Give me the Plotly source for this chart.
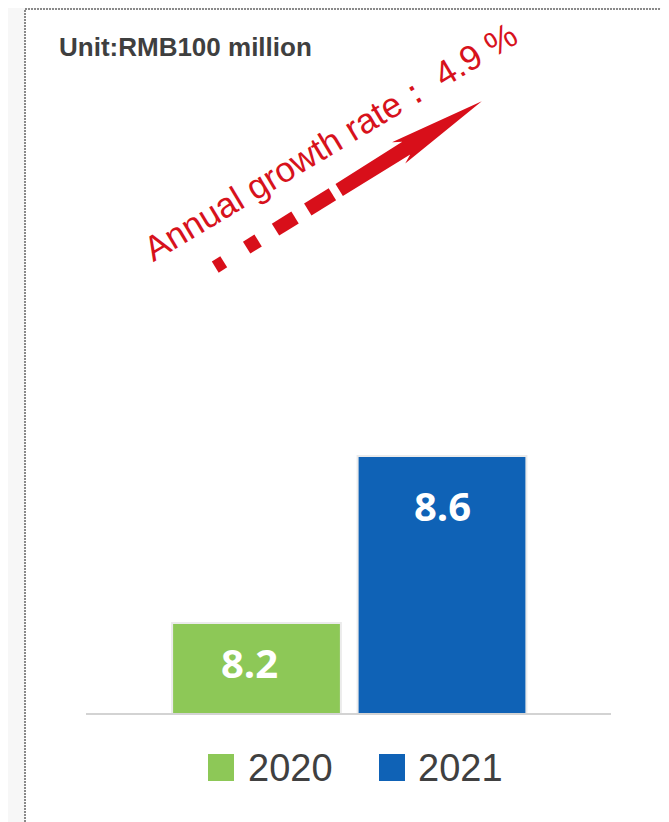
import math
import plotly.graph_objects as go

# ---- data ----
years = ["2020", "2021"]
values = [8.2, 8.6]
value_labels = ["8.2", "8.6"]
unit_text = "Unit:RMB100 million"
growth_text = "Annual growth rate： 4.9 %"

# ---- styles ----
bar_colors = ["#8dc857", "#0f62b6"]
OFF = 8  # page body margin
W, H = 669 - OFF, 822 - OFF
ML, MR, MT, MB = 86 - OFF, 669 - 611, 100 - OFF, 822 - 713
PW, PH = W - ML - MR, H - MT - MB

def px(x, y):
    return (x - OFF - ML) / PW, (H - MB - (y - OFF)) / PH

fig = go.Figure()
for yr, v, c in zip(years, values, bar_colors):
    fig.add_trace(go.Bar(
        x=[yr], y=[v], name=yr, width=0.91,
        marker=dict(color=c, line=dict(color="#ebebeb", width=2)),
        showlegend=False, hoverinfo="skip",
    ))

shapes = []
x0, y0 = px(25, 9)
x1, y1 = px(700, 860)
shapes.append(dict(type="rect", xref="paper", yref="paper", x0=x0, y0=y1, x1=x1, y1=y0,
                   fillcolor="white", line=dict(color="#8a8a8a", width=2, dash="2px,1px"),
                   layer="below"))

# red dashed arrow
P0 = (219.5, 264.5)
ang = math.atan2(163.5, 262.5)
u = (math.cos(ang), -math.sin(ang))
v = (math.sin(ang), math.cos(ang))

def loc(t, s):
    return (P0[0] + t * u[0] + s * v[0], P0[1] + t * u[1] + s * v[1])

def poly(points):
    pts = [px(*loc(t, s)) for t, s in points]
    d = "M " + " L ".join(f"{a:.5f},{b:.5f}" for a, b in pts) + " Z"
    return dict(type="path", xref="paper", yref="paper", path=d,
                fillcolor="#d80f1a", line=dict(width=0), layer="above")

for t0, t1, hw in [(-5, 5, 6.5), (32, 45.5, 7), (66, 89, 7), (104, 133, 7)]:
    shapes.append(poly([(t0, -hw), (t1, -hw), (t1, hw), (t0, hw)]))
shapes.append(poly([(141, -7), (220, -7.5), (211, -12.5), (309, 0),
                    (211, 12.5), (220, 7.5), (141, 7)]))

for (lx, c) in [(208, bar_colors[0]), (379, bar_colors[1])]:
    a0, b0 = px(lx, 754)
    a1, b1 = px(lx + 26, 781)
    shapes.append(dict(type="rect", xref="paper", yref="paper", x0=a0, y0=b1, x1=a1, y1=b0,
                       fillcolor=c, line=dict(width=0)))

annotations = []
ux, uy = px(57, 47)
annotations.append(dict(text=f"<b>{unit_text}</b>", xref="paper", yref="paper", x=ux, y=uy,
                        xanchor="left", yanchor="middle", showarrow=False,
                        font=dict(family="Liberation Sans, Arial", size=26, color="#3f3f3f")))
gx, gy = px(330, 141)
annotations.append(dict(text=growth_text, xref="paper", yref="paper", x=gx, y=gy,
                        xanchor="center", yanchor="middle", showarrow=False, textangle=-31,
                        font=dict(family="Liberation Sans, Arial", size=35, color="#d7121c")))
label_shift = [(-7, -40), (0, -50)]
for i, (v_, lab, (sx, sy)) in enumerate(zip(values, value_labels, label_shift)):
    annotations.append(dict(text=f"<b>{lab}</b>", x=i, y=v_, xref="x", yref="y",
                            xshift=sx, yshift=sy, showarrow=False, xanchor="center",
                            yanchor="middle",
                            font=dict(family="Open Sans", size=40, color="white")))
for yr, lx in zip(years, [246, 416]):
    a, b = px(lx, 768)
    annotations.append(dict(text=yr, xref="paper", yref="paper", x=a, y=b,
                            xanchor="left", yanchor="middle", showarrow=False,
                            font=dict(family="Liberation Sans, Arial", size=38, color="#404040")))

step = (442 - 256.5)
fig.update_layout(
    width=W, height=H, margin=dict(l=ML, r=MR, t=MT, b=MB),
    paper_bgcolor="#f7f7f7", plot_bgcolor="rgba(0,0,0,0)",
    barmode="overlay", showlegend=False,
    xaxis=dict(type="category", range=[-(256.5 - 86) / step, 1 + (611 - 442) / step],
               showticklabels=False, showgrid=False, zeroline=False,
               showline=True, linecolor="#d3d3d3", linewidth=2, ticks=""),
    yaxis=dict(range=[7.9844, 7.9844 + PH / 417.5], visible=False),
    shapes=shapes, annotations=annotations,
)
fig.write_html("out.html")
